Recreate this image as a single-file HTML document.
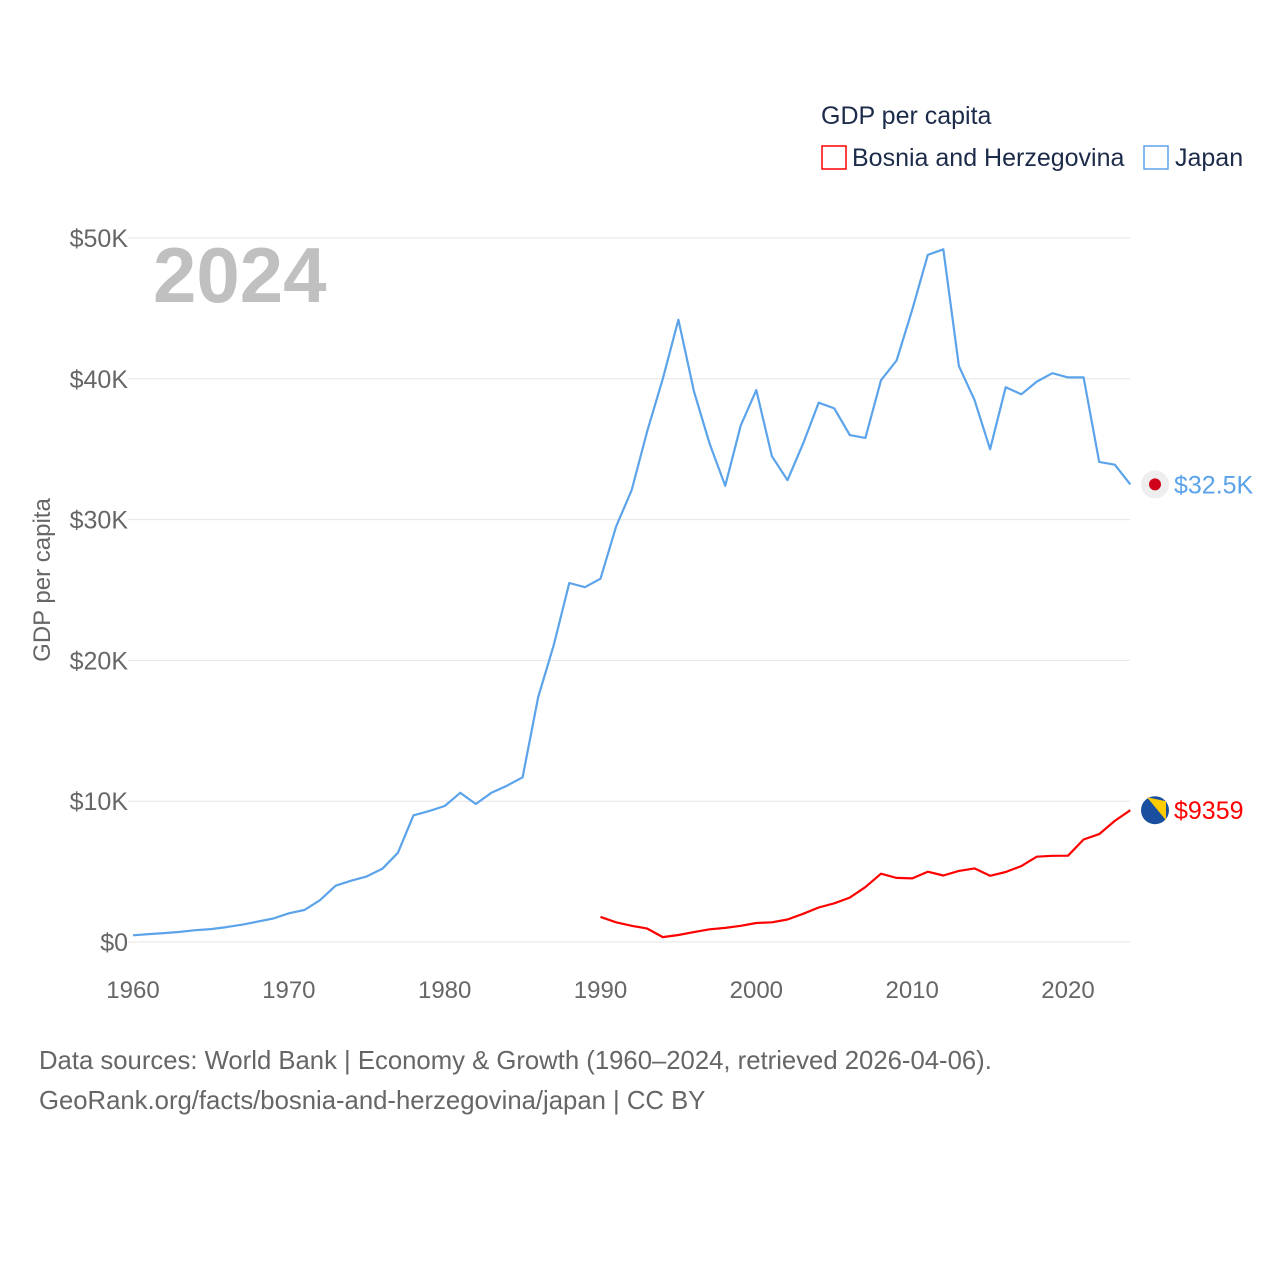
<!DOCTYPE html>
<html><head><meta charset="utf-8"><style>
body{margin:0;background:#fff;}
svg text{font-family:"Liberation Sans",sans-serif;}
</style></head><body>
<svg id="chart" width="1280" height="1280" xmlns="http://www.w3.org/2000/svg">
<rect width="1280" height="1280" fill="#fff"/>
<text x="821" y="124" font-size="25" fill="#1c2b4a">GDP per capita</text>
<g><rect x="822" y="146" width="24" height="23" fill="none" stroke="#f00" stroke-width="1.5"/><text x="852" y="166" font-size="25" fill="#1c2b4a">Bosnia and Herzegovina</text></g>
<g><rect x="1144" y="146" width="24" height="23" fill="none" stroke="#5ba3ea" stroke-width="1.5"/><text x="1175" y="166" font-size="25" fill="#1c2b4a">Japan</text></g>
<text x="153" y="302" font-size="78" font-weight="bold" fill="#c0c0c0">2024</text>
<text transform="translate(50,580) rotate(-90)" text-anchor="middle" font-size="24" fill="#666">GDP per capita</text>
<g id="grid"></g><g id="series"></g>
<text x="39" y="1069" font-size="25.7" fill="#666">Data sources: World Bank | Economy &amp; Growth (1960–2024, retrieved 2026-04-06).</text>
<text x="39" y="1109" font-size="25.7" fill="#666">GeoRank.org/facts/bosnia-and-herzegovina/japan | CC BY</text>
</svg>
<script>
const yTicks=[0,10000,20000,30000,40000,50000];
const yTickLabels=["$0","$10K","$20K","$30K","$40K","$50K"];
const xTicks=[1960,1970,1980,1990,2000,2010,2020];
const japanStart=1960;
const japan=[475,564,634,718,835,919,1058,1228,1450,1669,2037,2272,2967,3997,4354,4659,5197,6335,9000,9300,9659,10600,9800,10600,11100,11700,17400,21100,25500,25200,25800,29500,32100,36300,40000,44200,39100,35400,32400,36700,39200,34500,32800,35400,38300,37900,36000,35800,39900,41300,44900,48800,49200,40900,38500,35000,39400,38900,39800,40400,40100,40100,34100,33900,32500];
const bihStart=1990;
const bih=[1780,1400,1150,950,350,500,700,900,1000,1150,1350,1400,1600,2000,2450,2750,3150,3900,4850,4550,4520,4990,4720,5050,5230,4700,4970,5390,6060,6120,6130,7280,7660,8600,9359];
const X=y=>133+(y-1960)*(1068-133)/60;
const Y=v=>942-v*(942-238)/50000;
const NS="http://www.w3.org/2000/svg";
function mk(tag,attrs,parent,txt){const e=document.createElementNS(NS,tag);for(const k in attrs)e.setAttribute(k,attrs[k]);if(txt!==undefined)e.textContent=txt;parent.appendChild(e);return e;}
const grid=document.getElementById('grid'),ser=document.getElementById('series');
yTicks.forEach((t,i)=>{
 const l=mk('line',{x1:128,x2:1130,y1:Y(t),y2:Y(t),stroke:'#e6e6e6','stroke-width':1},grid);
 
 
 const tx=mk('text',{x:128,y:Y(t)+9,'text-anchor':'end','font-size':25,fill:'#666'},grid,yTickLabels[i]);
 
 
});
xTicks.forEach(t=>{
 const tx=mk('text',{x:X(t),y:998,'text-anchor':'middle','font-size':24,fill:'#666'},grid,String(t));
 
 
});
function line(data,start,color,name){
 const d=data.map((v,i)=>(i?'L':'M')+X(start+i).toFixed(1)+' '+Y(v).toFixed(1)).join(' ');
 const p=mk('path',{d:d,fill:'none',stroke:color,'stroke-width':2.2,'stroke-linejoin':'round'},ser);
 
 
}
line(japan,japanStart,'#5ba3ea','japan-line');
line(bih,bihStart,'#f00','bosnia-line');
const jl=japan[japan.length-1],bl=bih[bih.length-1];
const jc=mk('circle',{cx:1155,cy:Y(jl),r:14,fill:'#eee'},ser);


mk('circle',{cx:1155,cy:Y(jl),r:6,fill:'#d0021b'},ser);
const bc=mk('circle',{cx:1155,cy:Y(bl),r:14,fill:'#1a4fa0'},ser);


mk('path',{d:`M1147 ${Y(bl)-13} L1166 ${Y(bl)-9} L1166 ${Y(bl)+10} Z`,fill:'#fecb00'},ser);
const jt=mk('text',{x:1174,y:Y(jl)+9,'font-size':25,fill:'#5ba3ea'},ser,'$32.5K');


const bt=mk('text',{x:1174,y:Y(bl)+9,'font-size':25,fill:'#f00'},ser,'$'+bl);


</script>
</body></html>
